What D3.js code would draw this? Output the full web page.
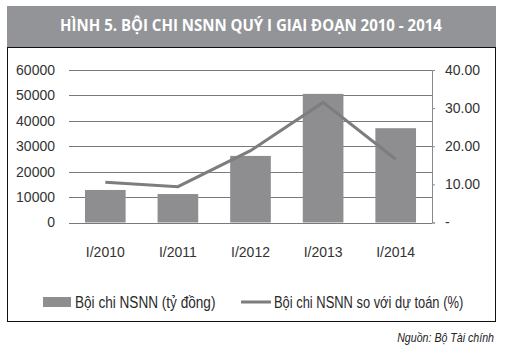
<!DOCTYPE html>
<html>
<head>
<meta charset="utf-8">
<script src="https://cdn.jsdelivr.net/npm/d3@7"></script>
<style>
  body { margin: 0; background: #fff; }
  svg { display: block; font-family: 'Liberation Sans', Arial, sans-serif; }
</style>
</head>
<body>
<div id="chart"></div>
<script>
// Dữ liệu
const categories = ['I/2010', 'I/2011', 'I/2012', 'I/2013', 'I/2014'];
const deficit = [12800, 11200, 26200, 50600, 37100];       // tỷ đồng
const deficitPct = [10.55, 9.4, 18.85, 31.5, 16.6];        // % so với dự toán
const leftTicks = [0, 10000, 20000, 30000, 40000, 50000, 60000];
const rightTicks = [0, 10, 20, 30, 40];

const W = 509, H = 353;
const svg = d3.select('#chart').append('svg')
    .attr('width', W).attr('height', H);

// chữ hẹp: co theo chiều ngang bằng transform
function narrowText(parent, txt, xPos, yPos, sx, anchor) {
    return parent.append('text')
        .attr('transform', `translate(${xPos},${yPos}) scale(${sx},1)`)
        .attr('text-anchor', anchor || 'start')
        .text(txt);
}

// Tiêu đề
svg.append('rect')
    .attr('x', 7).attr('y', 6).attr('width', 489).attr('height', 41)
    .attr('fill', '#929497');
narrowText(svg, 'HÌNH 5. BỘI CHI NSNN QUÝ I GIAI ĐOẠN 2010 - 2014', 251, 31, 0.97, 'middle')
    .attr('fill', '#fff')
    .attr('font-family', "'Open Sans', sans-serif")
    .attr('font-weight', 'bold')
    .attr('font-size', 15.5);

// Khung
svg.append('rect')
    .attr('x', 7.5).attr('y', 47.5).attr('width', 488).attr('height', 274)
    .attr('fill', 'none').attr('stroke', '#111').attr('stroke-width', 1);

// Vùng vẽ
const x0 = 69, x1 = 432, yTop = 70, yBot = 222.5;

const x = d3.scaleBand()
    .domain(categories)
    .range([x0, x1])
    .paddingInner(0.44).paddingOuter(0.22);

const yL = d3.scaleLinear().domain([0, 60000]).range([yBot, yTop]);
const yR = d3.scaleLinear().domain([0, 40]).range([yBot, yTop]);

// Lưới ngang
svg.append('g').selectAll('line')
    .data(leftTicks)
    .enter().append('line')
    .attr('x1', x0).attr('x2', x1)
    .attr('y1', d => Math.round(yL(d)) + 0.5)
    .attr('y2', d => Math.round(yL(d)) + 0.5)
    .attr('stroke', '#7a7a7a').attr('stroke-width', 1);

// Trục trái
const axL = svg.append('g')
    .attr('transform', `translate(${x0},0)`)
    .call(d3.axisLeft(yL).tickValues(leftTicks).tickSize(0).tickPadding(14).tickFormat(d3.format('d')));
axL.select('.domain').remove();
axL.selectAll('text')
    .attr('font-family', "'Liberation Sans', sans-serif")
    .attr('font-size', 14).attr('fill', '#333');

// Trục phải
const axR = svg.append('g')
    .attr('transform', `translate(${x1},0)`)
    .call(d3.axisRight(yR).tickValues(rightTicks).tickSize(3).tickPadding(10)
        .tickFormat(d => d === 0 ? '-' : d3.format('.2f')(d)));
axR.select('.domain').attr('stroke', '#8a8a8a');
axR.selectAll('line').attr('stroke', '#8a8a8a');
axR.selectAll('text')
    .attr('font-family', "'Liberation Sans', sans-serif")
    .attr('font-size', 14).attr('fill', '#333');

// Cột
svg.append('g').selectAll('rect')
    .data(deficit)
    .enter().append('rect')
    .attr('x', (d, i) => x(categories[i]))
    .attr('y', d => yL(d))
    .attr('width', x.bandwidth())
    .attr('height', d => yBot - yL(d))
    .attr('fill', '#8e8e90');

// Đường
const line = d3.line()
    .x((d, i) => x(categories[i]) + x.bandwidth() / 2)
    .y(d => yR(d));
svg.append('path')
    .datum(deficitPct)
    .attr('d', line)
    .attr('fill', 'none')
    .attr('stroke', '#7d7d7f')
    .attr('stroke-width', 3);

// Nhãn trục x
const axX = svg.append('g')
    .attr('transform', `translate(0,${yBot})`)
    .call(d3.axisBottom(x).tickSize(0).tickPadding(25));
axX.select('.domain').remove();
axX.selectAll('text')
    .attr('font-family', "'Liberation Sans', sans-serif")
    .attr('font-size', 14).attr('fill', '#333');

// Chú giải
const lg = svg.append('g')
    .attr('font-size', 17).attr('fill', '#2a2a2a');
lg.append('rect')
    .attr('x', 43).attr('y', 297).attr('width', 28).attr('height', 10)
    .attr('fill', '#8e8e90');
narrowText(lg, 'Bội chi NSNN (tỷ đồng)', 75, 308, 0.8);
lg.append('line')
    .attr('x1', 241).attr('x2', 271).attr('y1', 302).attr('y2', 302)
    .attr('stroke', '#7d7d7f').attr('stroke-width', 3);
narrowText(lg, 'Bội chi NSNN so với dự toán (%)', 274, 308, 0.76);

// Nguồn
narrowText(svg, 'Nguồn: Bộ Tài chính', 494, 342, 0.85, 'end')
    .attr('font-style', 'italic')
    .attr('font-size', 12.5).attr('fill', '#222');
</script>
</body>
</html>
